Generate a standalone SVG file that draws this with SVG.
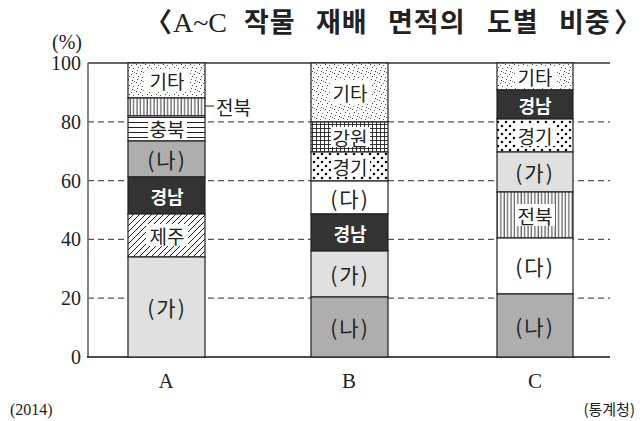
<svg xmlns="http://www.w3.org/2000/svg" width="643" height="421" viewBox="0 0 643 421">
<defs>
<pattern id="stip" width="9" height="9" patternUnits="userSpaceOnUse">
<rect width="9" height="9" fill="#fff"/>
<rect x="1" y="1" width="1" height="1" fill="#444"/>
<rect x="5" y="2" width="1" height="1" fill="#666"/>
<rect x="3" y="4" width="1" height="1" fill="#444"/>
<rect x="7" y="5" width="1" height="1" fill="#555"/>
<rect x="2" y="7" width="1" height="1" fill="#666"/>
<rect x="6" y="8" width="1" height="1" fill="#444"/>
<rect x="8" y="0" width="1" height="1" fill="#777"/>
</pattern>
<pattern id="vlines" width="3.4" height="10" patternUnits="userSpaceOnUse">
<rect width="3.4" height="10" fill="#fff"/>
<line x1="1" y1="0" x2="1" y2="10" stroke="#222" stroke-width="0.9"/>
</pattern>
<pattern id="hlines" width="10" height="5" patternUnits="userSpaceOnUse">
<rect width="10" height="5" fill="#fff"/>
<line x1="0" y1="2.5" x2="10" y2="2.5" stroke="#222" stroke-width="1"/>
</pattern>
<pattern id="diag" width="6" height="6" patternUnits="userSpaceOnUse">
<rect width="6" height="6" fill="#fff"/>
<path d="M-1,7 L7,-1 M-4,4 L4,-4 M2,10 L10,2" stroke="#222" stroke-width="1"/>
</pattern>
<pattern id="grid" width="4" height="4" patternUnits="userSpaceOnUse">
<rect width="4" height="4" fill="#fff"/>
<path d="M0,0.5 H4 M0.5,0 V4" stroke="#222" stroke-width="0.9"/>
</pattern>
<pattern id="dots" width="8" height="8" patternUnits="userSpaceOnUse">
<rect width="8" height="8" fill="#fff"/>
<circle cx="2" cy="2" r="1.3" fill="#111"/>
<circle cx="6" cy="6" r="1.3" fill="#111"/>
</pattern>
</defs>
<style>
.seg{stroke:#222;stroke-width:1.2}
.lbl{font-family:"Noto Sans CJK KR","Noto Sans",sans-serif;font-size:19px;fill:#222;text-anchor:middle;dominant-baseline:central}
.par{font-family:"Noto Sans CJK KR","Noto Sans",sans-serif;font-size:21px;fill:#222;text-anchor:middle;dominant-baseline:central;letter-spacing:2px}
.wb{font-family:"Noto Sans CJK KR","Noto Sans",sans-serif;font-size:18px;font-weight:bold;fill:#fff;text-anchor:middle;dominant-baseline:central}
.num{font-family:"Liberation Serif",serif;font-size:20px;fill:#222;text-anchor:end}
.cat{font-family:"Liberation Serif",serif;font-size:21px;fill:#222;text-anchor:middle}
.bg{fill:#fff}
.grid{stroke:#555;stroke-width:1.2;stroke-dasharray:6,4}
.tt{font-family:"Noto Sans CJK KR",sans-serif;font-size:27px;font-weight:bold;fill:#222;letter-spacing:1px}
</style>
<rect width="643" height="421" fill="#fff"/>

<g id="title">
<text x="145" y="32" class="tt">〈</text>
<text x="173" y="32" font-family="Liberation Serif, serif" font-size="28" fill="#222">A~C</text>
<text x="244" y="32" class="tt">작물</text>
<text x="316" y="32" class="tt">재배</text>
<text x="388" y="32" class="tt">면적의</text>
<text x="487" y="32" class="tt">도별</text>
<text x="559" y="32" class="tt">비중</text>
<text x="614" y="32" class="tt">〉</text>
</g>

<g id="axes">
<text x="82" y="49" class="num" font-size="17">(%)</text>
<text x="81" y="70" class="num">100</text>
<text x="81" y="129" class="num">80</text>
<text x="81" y="188" class="num">60</text>
<text x="81" y="246" class="num">40</text>
<text x="81" y="305" class="num">20</text>
<text x="81" y="364" class="num">0</text>
<line x1="88" y1="121.8" x2="610" y2="121.8" class="grid"/>
<line x1="88" y1="180.6" x2="610" y2="180.6" class="grid"/>
<line x1="88" y1="239.4" x2="610" y2="239.4" class="grid"/>
<line x1="88" y1="298.2" x2="610" y2="298.2" class="grid"/>
<line x1="88" y1="63" x2="610" y2="63" stroke="#333" stroke-width="1.5"/>
<line x1="88" y1="63" x2="88" y2="357" stroke="#666" stroke-width="1.6"/>
<line x1="87" y1="357" x2="610" y2="357" stroke="#111" stroke-width="1.6"/>
<text x="166" y="388" class="cat">A</text>
<text x="349" y="388" class="cat">B</text>
<text x="535" y="388" class="cat">C</text>
<text x="10" y="415" font-family="Liberation Serif, serif" font-size="16" fill="#222">(2014)</text>
<text x="635" y="415" font-family="Noto Sans CJK KR, sans-serif" font-size="15" fill="#222" text-anchor="end">(통계청)</text>
</g>

<g id="barA">
<g id="A-etc"><rect x="128" y="63" width="77" height="35" fill="url(#stip)" class="seg"/><rect x="145" y="69" width="44" height="23" class="bg"/><text x="167" y="80.5" class="lbl">기타</text></g>
<g id="A-jb"><rect x="128" y="98" width="77" height="18" fill="url(#vlines)" class="seg"/></g>
<g id="A-cb"><rect x="128" y="116" width="77" height="25" fill="url(#hlines)" class="seg"/><rect x="148" y="119" width="39" height="19" class="bg"/><text x="167" y="128.5" class="lbl">충북</text></g>
<g id="A-na"><rect x="128" y="141" width="77" height="36" fill="#aeaeae" class="seg"/><text x="167" y="159" class="par">(나)</text></g>
<g id="A-gn"><rect x="128" y="177" width="77" height="37" fill="#333" class="seg"/><text x="167" y="195.5" class="wb">경남</text></g>
<g id="A-jj"><rect x="128" y="214" width="77" height="43" fill="url(#diag)" class="seg"/><rect x="146" y="224" width="42" height="22" class="bg"/><text x="167" y="235.5" class="lbl">제주</text></g>
<g id="A-ga"><rect x="128" y="257" width="77" height="100" fill="#e0e0e0" class="seg"/><text x="167" y="307" class="par">(가)</text></g>
</g>

<g id="label-A-jb"><text x="216" y="106" class="lbl" style="text-anchor:start">전북</text></g>

<g id="connectors">
<line x1="205" y1="106" x2="214" y2="106" stroke="#222" stroke-width="1"/>
</g>

<g id="barB">
<g id="B-etc"><rect x="311" y="63" width="77" height="59" fill="url(#stip)" class="seg"/><rect x="330" y="80" width="42" height="24" class="bg"/><text x="350" y="92" class="lbl">기타</text></g>
<g id="B-gw"><rect x="311" y="122" width="77" height="30" fill="url(#grid)" class="seg"/><rect x="331" y="127" width="39" height="20" class="bg"/><text x="350" y="137" class="lbl">강원</text></g>
<g id="B-gg"><rect x="311" y="152" width="77" height="29" fill="url(#dots)" class="seg"/><rect x="331" y="156" width="39" height="20" class="bg"/><text x="350" y="166" class="lbl">경기</text></g>
<g id="B-da"><rect x="311" y="181" width="77" height="33" fill="#fff" class="seg"/><text x="350" y="197.5" class="par">(다)</text></g>
<g id="B-gn"><rect x="311" y="214" width="77" height="37" fill="#333" class="seg"/><text x="350" y="232.5" class="wb">경남</text></g>
<g id="B-ga"><rect x="311" y="251" width="77" height="46" fill="#e0e0e0" class="seg"/><text x="350" y="274" class="par">(가)</text></g>
<g id="B-na"><rect x="311" y="297" width="77" height="60" fill="#aeaeae" class="seg"/><text x="350" y="327" class="par">(나)</text></g>
</g>

<g id="barC">
<g id="C-etc"><rect x="497" y="63" width="76" height="27" fill="url(#stip)" class="seg"/><rect x="515" y="66" width="42" height="21" class="bg"/><text x="535" y="76.5" class="lbl">기타</text></g>
<g id="C-gn"><rect x="497" y="90" width="76" height="29" fill="#333" class="seg"/><text x="535" y="104.5" class="wb">경남</text></g>
<g id="C-gg"><rect x="497" y="119" width="76" height="33" fill="url(#dots)" class="seg"/><rect x="516" y="125" width="39" height="21" class="bg"/><text x="535" y="135.5" class="lbl">경기</text></g>
<g id="C-ga"><rect x="497" y="152" width="76" height="40" fill="#e0e0e0" class="seg"/><text x="535" y="172" class="par">(가)</text></g>
<g id="C-jb"><rect x="497" y="192" width="76" height="46" fill="url(#vlines)" class="seg"/><rect x="516" y="204" width="39" height="22" class="bg"/><text x="535" y="215" class="lbl">전북</text></g>
<g id="C-da"><rect x="497" y="238" width="76" height="56" fill="#fff" class="seg"/><text x="535" y="266" class="par">(다)</text></g>
<g id="C-na"><rect x="497" y="294" width="76" height="63" fill="#aeaeae" class="seg"/><text x="535" y="325.5" class="par">(나)</text></g>
</g>
</svg>
